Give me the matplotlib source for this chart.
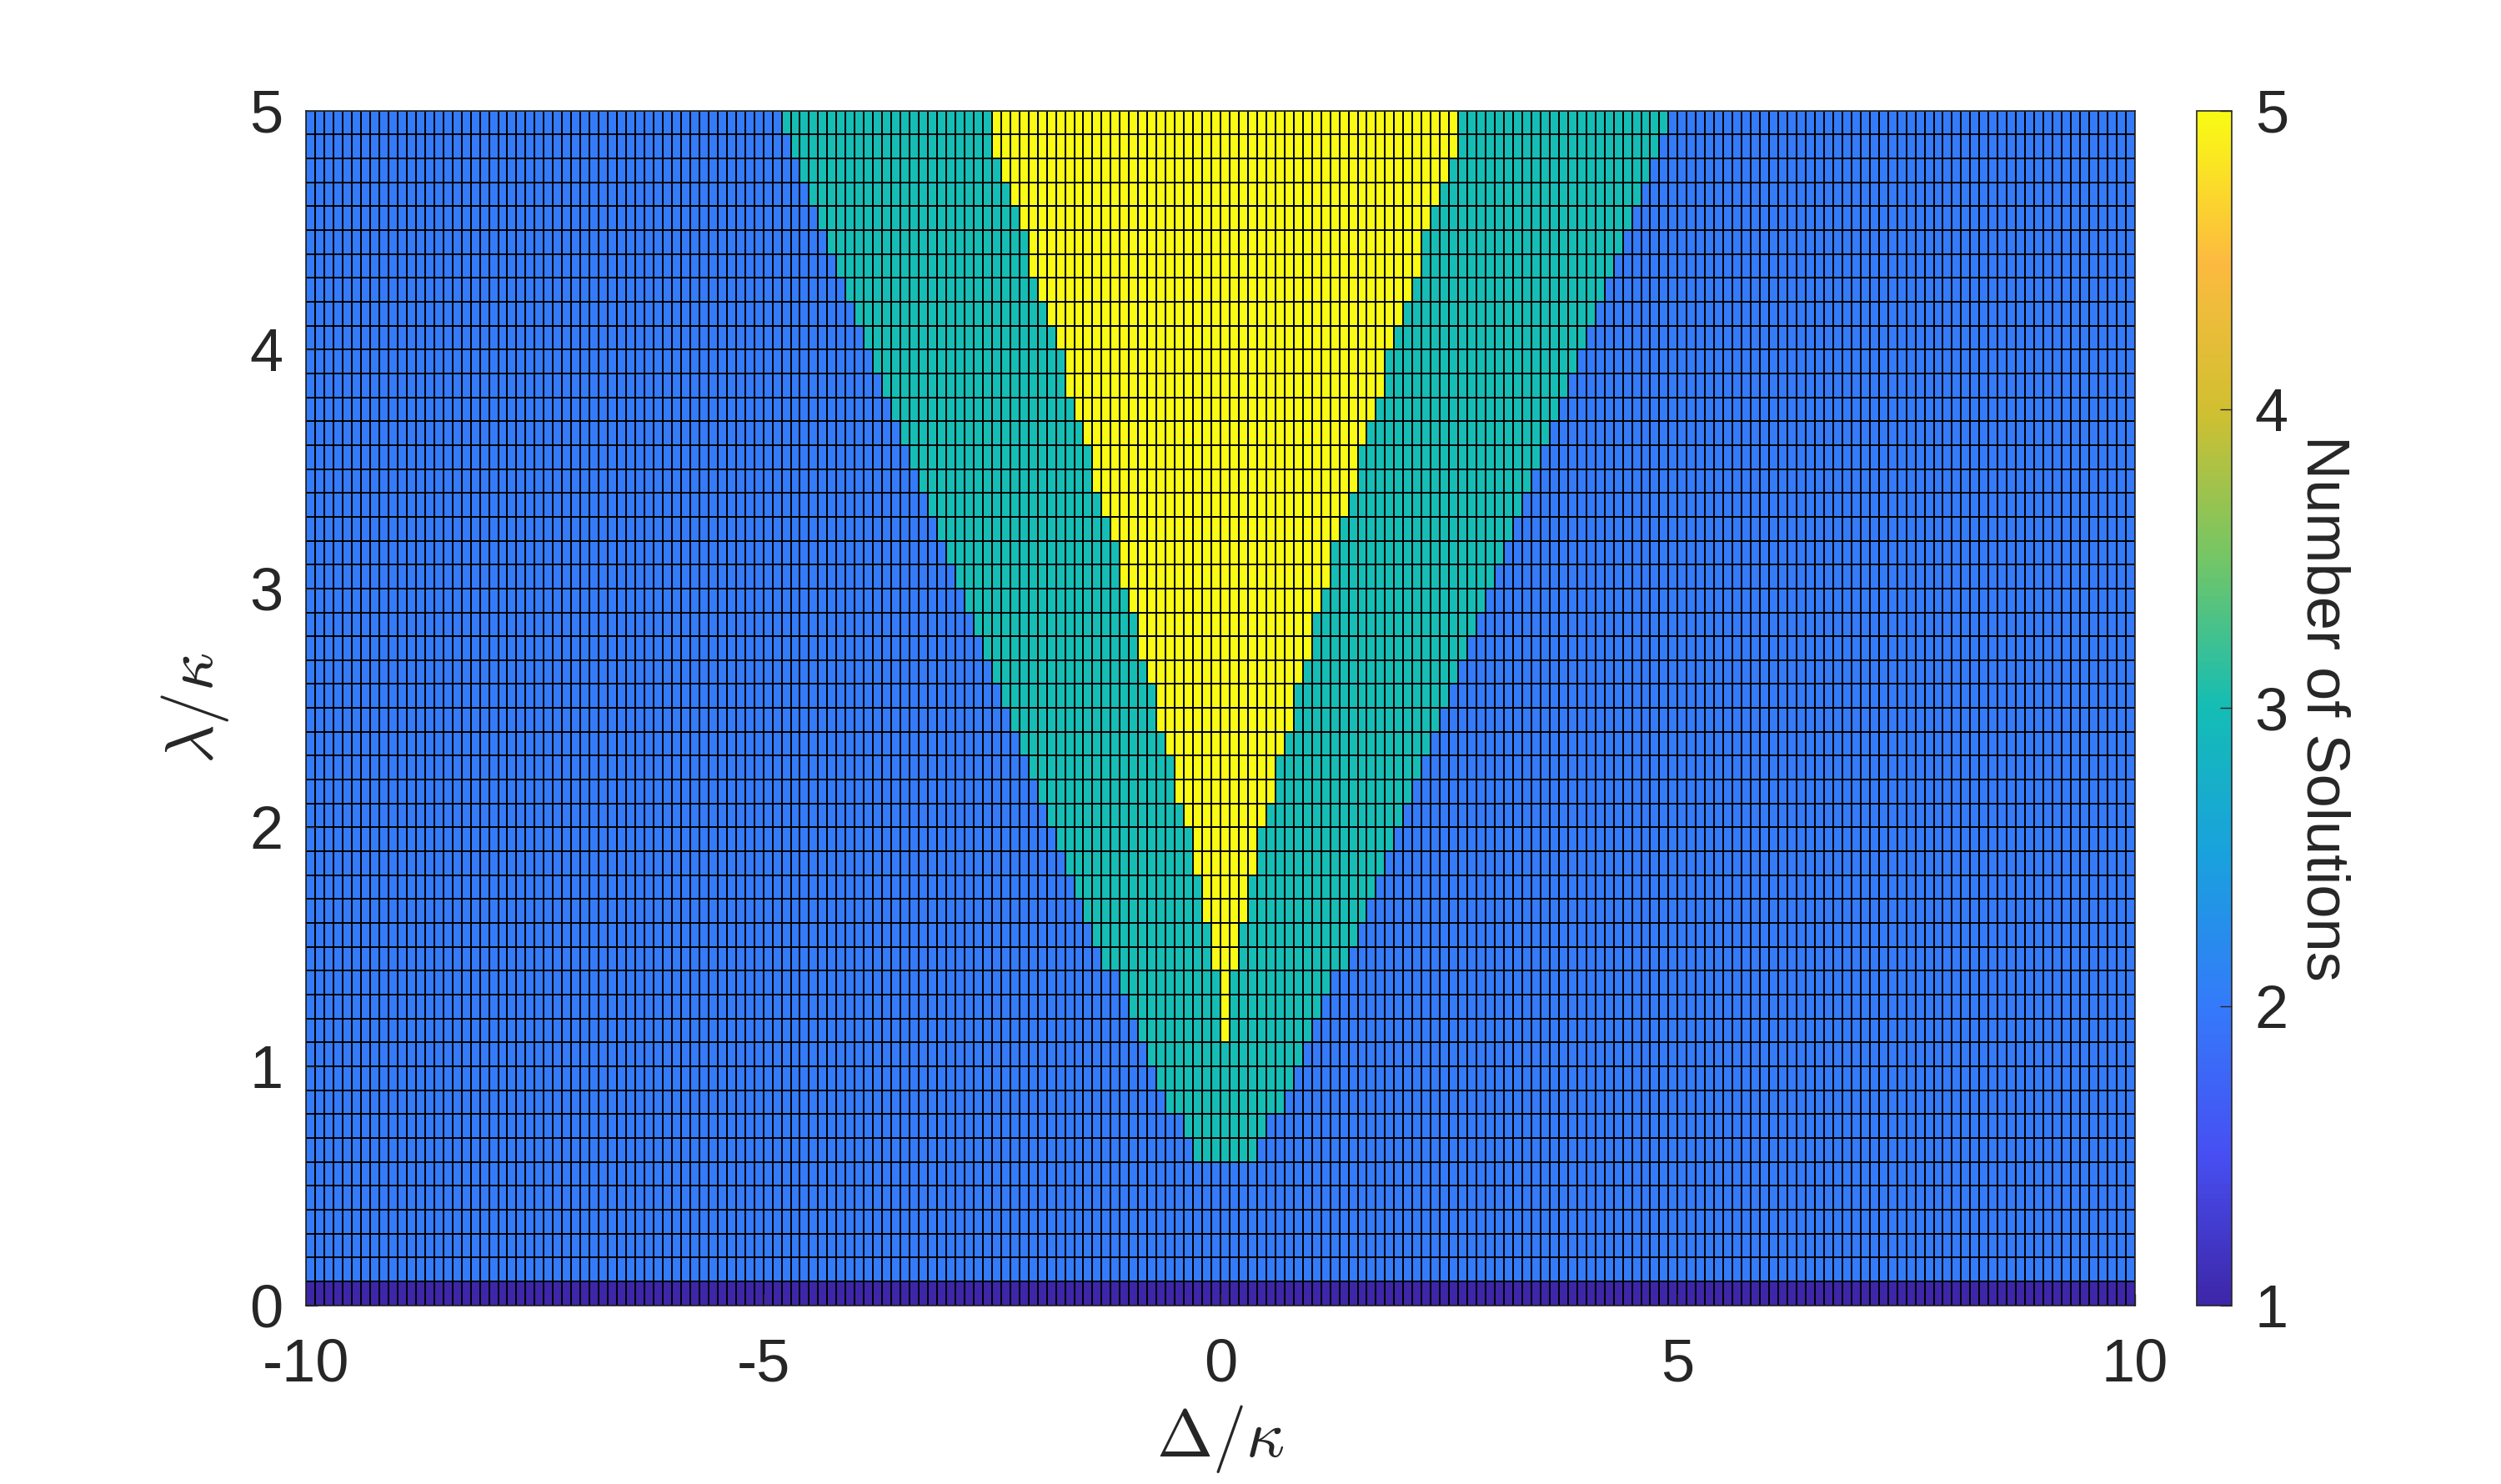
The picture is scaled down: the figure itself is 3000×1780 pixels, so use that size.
import numpy as np
import matplotlib
matplotlib.use('Agg')
import matplotlib.pyplot as plt
from matplotlib.colors import LinearSegmentedColormap

plt.rcParams['font.family'] = ['Liberation Sans', 'DejaVu Sans']
plt.rcParams['mathtext.fontset'] = 'cm'
plt.rcParams['axes.unicode_minus'] = False

# grid of the scan (MATLAB pcolor style: last row/col of vertices dropped)
delta = np.round(np.arange(-10, 10.001, 0.1), 1)   # Delta/kappa
lam = np.round(np.arange(0, 5.001, 0.1), 1)        # lambda/kappa

# number of solutions
n_base = 2          # outside the wedge
n_zero = 1          # lambda = 0 row
lam_3_start = 0.6   # first row with 3 solutions
half_3 = [0.3, 0.4, 0.6, 0.7, 0.8, 0.9, 1.0, 1.1, 1.3, 1.4, 1.5, 1.6,
          1.7, 1.8, 1.9, 2.0, 2.1, 2.2, 2.3, 2.4, 2.5, 2.6, 2.7, 2.8,
          2.9, 3.0, 3.1, 3.2, 3.3, 3.4, 3.5, 3.6, 3.7, 3.8, 3.9, 4.0,
          4.1, 4.2, 4.3, 4.4, 4.5, 4.6, 4.7, 4.8]
lam_5_start = 1.1   # first row with 5 solutions
half_5 = [0.0, 0.0, 0.0, 0.1, 0.1, 0.2, 0.2, 0.3, 0.3, 0.4, 0.5, 0.5,
          0.6, 0.7, 0.7, 0.8, 0.9, 0.9, 1.0, 1.1, 1.1, 1.2, 1.3, 1.4,
          1.4, 1.5, 1.6, 1.7, 1.7, 1.8, 1.9, 2.0, 2.1, 2.1, 2.2, 2.3,
          2.4, 2.5, 2.5]

# parula-like colormap
parula = LinearSegmentedColormap.from_list('parula', [
    (0.000, (0.2422, 0.1504, 0.6603)),
    (0.125, (0.2780, 0.3100, 0.9500)),
    (0.250, (0.2050, 0.4800, 0.9800)),
    (0.375, (0.1000, 0.6300, 0.8700)),
    (0.500, (0.0780, 0.7400, 0.7100)),
    (0.625, (0.4500, 0.7750, 0.4000)),
    (0.750, (0.8200, 0.7500, 0.1900)),
    (0.875, (0.9900, 0.7300, 0.2500)),
    (1.000, (0.9769, 0.9839, 0.0805)),
])

C = np.full((len(lam) - 1, len(delta) - 1), n_base, dtype=float)
C[0, :] = n_zero
dx = delta[:-1]
k3 = int(round(lam_3_start * 10))
for i, a in enumerate(half_3):
    C[k3 + i, np.abs(dx) <= a + 1e-9] = 3
k5 = int(round(lam_5_start * 10))
for i, a in enumerate(half_5):
    C[k5 + i, np.abs(dx) <= a + 1e-9] = 5

fig = plt.figure(figsize=(15, 8.9), dpi=200)
ax = fig.add_axes([0.1224, 0.1204, 0.7312, 0.8051])
mesh = ax.pcolormesh(delta, lam, C, cmap=parula, vmin=1, vmax=5,
                     edgecolors='k', linewidth=0.7)
ax.set_xlim(-10, 10)
ax.set_ylim(0, 5)
ax.set_xticks([-10, -5, 0, 5, 10])
ax.set_yticks([0, 1, 2, 3, 4, 5])
ax.tick_params(direction='in', length=5, width=0.5, labelsize=26,
               colors='#262626', pad=10)
ax.tick_params(axis='x', pad=14)
for s in ax.spines.values():
    s.set_color('#262626')
    s.set_linewidth(0.6)
ax.set_xlabel(r'$\Delta/\kappa$', fontsize=29, color='#262626', labelpad=4)
ax.set_ylabel(r'$\lambda/\kappa$', fontsize=29, color='#262626', labelpad=8)

cax = fig.add_axes([0.8783, 0.1204, 0.014, 0.8051])
cb = fig.colorbar(mesh, cax=cax)
cb.set_ticks([1, 2, 3, 4, 5])
cax.tick_params(direction='in', length=5, width=0.5, labelsize=26,
                colors='#262626', pad=10)
cb.outline.set_edgecolor('#262626')
cb.outline.set_linewidth(0.6)
cb.set_label('Number of Solutions', rotation=270, fontsize=26,
             color='#262626', labelpad=27)

fig.savefig('out.png', dpi=200)
